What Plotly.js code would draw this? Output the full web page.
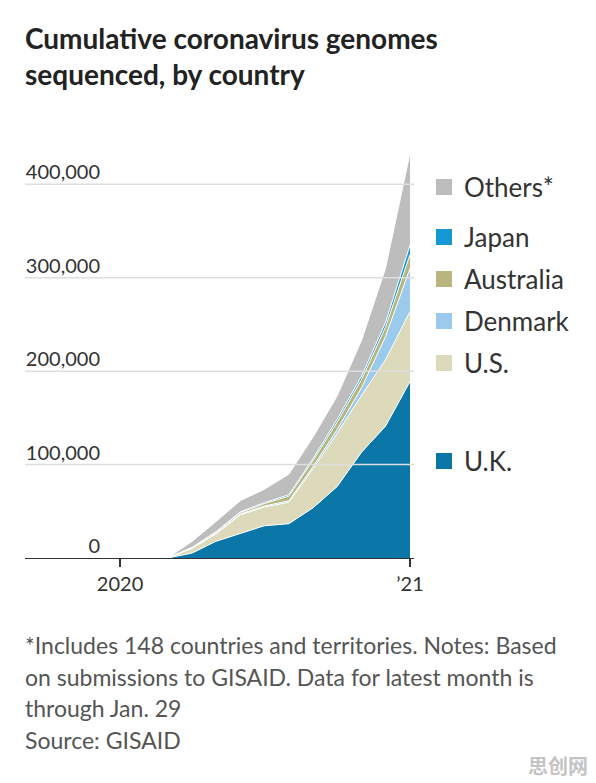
<!DOCTYPE html>
<html>
<head>
<meta charset="utf-8">
<script src="https://cdn.plot.ly/plotly-3.0.1.min.js"></script>
<style>html,body{margin:0;padding:0;background:#fff;}#chart{width:596px;height:783px;}</style>
</head>
<body>
<div id="chart"></div>
<script>
// ---- data (cumulative genomes, stacked by country) ----
var months = ['2020-03-01','2020-04-01','2020-05-01','2020-06-01','2020-07-01','2020-08-01','2020-09-01','2020-10-01','2020-11-01','2020-12-01','2021-01-01'];
var uk        = [0, 5300, 17800, 26700, 34500, 36700, 54000, 76500, 113500, 141000, 189000];
var us        = [0, 5000,  7800, 19500, 20000, 23000, 42000, 57000,  61000,  71000,  75000];
var denmark   = [0,  400,   800,  1000,  1200,  1500,  2500,  4000,   8000,  25000,  46000];
var australia = [0,  500,  1200,  1500,  2500,  5000,  6500,  8000,   9000,  10000,  15000];
var japan     = [0,  300,   600,   800,  1000,  1500,  2000,  3000,   3500,   5000,  10000];
var others    = [0, 6300, 10800, 12000, 14300, 22000, 23000, 25000,  38500,  58000,  98500];

var seriesNames = ['U.K.', 'U.S.', 'Denmark', 'Australia', 'Japan', 'Others*'];
var seriesData  = [uk, us, denmark, australia, japan, others];
var seriesColors = ['#0b76a8', '#dddabb', '#9bcaec', '#b9b57f', '#1598d5', '#bdbdbd'];
var legendY = [461, 363, 321, 279, 237, 187]; // px centre of each legend label

var xTickVals = ['2020-01-01', '2021-01-01'];
var xTickText = ['2020', '\u201921'];
var yTickVals = [0, 100000, 200000, 300000, 400000];

var FONT = "Lato, 'Open Sans', sans-serif";
var W = 596, H = 783;

var traces = [];
seriesData.forEach(function(vals, i){
  traces.push({
    type: 'scatter', x: months, y: vals, stackgroup: 'one',
    mode: 'lines', line: {color: '#ffffff', width: 1},
    fillcolor: seriesColors[i], name: seriesNames[i],
    showlegend: false, hoverinfo: 'skip'
  });
});
var layout = {
  width: W, height: H,
  margin: {l: 25, r: 182, t: 147, b: 225},
  paper_bgcolor: '#fff', plot_bgcolor: '#fff',
  font: {family: FONT, color: '#333'},
  title: {
    text: 'Cumulative coronavirus genomes<br>sequenced, by country',
    font: {family: FONT, size: 28, weight: 700, color: '#222'},
    x: 25 / W, xanchor: 'left', xref: 'container',
    y: 1 - 49 / H, yanchor: 'top', yref: 'container'
  },
  xaxis: {
    type: 'date', range: ['2019-09-03', '2021-01-06'],
    tickvals: xTickVals, ticktext: xTickText,
    ticks: 'outside', ticklen: 8, tickwidth: 1.4, tickcolor: '#333',
    showline: true, linecolor: '#333', linewidth: 1.4,
    showgrid: false, zeroline: false,
    tickfont: {family: FONT, size: 20, color: '#333'},
    layer: 'above traces', fixedrange: true
  },
  yaxis: {
    range: [0, 440000], tickvals: yTickVals, tickformat: ',',
    showgrid: false, zeroline: false, showline: false, ticks: '',
    ticklabelposition: 'outside', ticklabelstandoff: -76, ticklabelshift: -12,
    tickfont: {family: FONT, size: 20, color: '#333'},
    fixedrange: true
  },
  shapes: [],
  annotations: []
};

// gridlines drawn above the areas, at the y tick values
yTickVals.forEach(function(v){
  if (v === 0) return;
  layout.shapes.push({type: 'line', layer: 'above', xref: 'paper', x0: 0, x1: 1,
    yref: 'y', y0: v, y1: v, line: {color: '#dedede', width: 1.5}});
});

// legend swatches, one legend per entry so each can sit beside its band
seriesNames.forEach(function(n, i){
  var key = i === 0 ? 'legend' : 'legend' + (i + 1);
  traces.push({
    type: 'scatter', x: [null], y: [null], mode: 'markers', name: n,
    marker: {symbol: 'square', size: 18, color: seriesColors[i]},
    legend: key, showlegend: true, hoverinfo: 'skip'
  });
  layout[key] = {
    xref: 'container', yref: 'container',
    x: 424 / W, xanchor: 'left', y: 1 - legendY[i] / H, yanchor: 'middle',
    font: {family: FONT, size: 26, color: '#333'},
    bgcolor: 'rgba(0,0,0,0)', borderwidth: 0, itemsizing: 'trace'
  };
});

// footnote
var notes = ['*Includes 148 countries and territories. Notes: Based',
             'on submissions to GISAID. Data for latest month is',
             'through Jan. 29',
             'Source: GISAID'];
var noteY = [645, 677, 708, 740];
var plotTop = 147, plotH = H - 147 - 225, plotL = 25, plotW = W - 25 - 182;
notes.forEach(function(t, i){
  layout.annotations.push({
    text: t, showarrow: false, xref: 'paper', yref: 'paper',
    x: (23 - plotL) / plotW, xanchor: 'left',
    y: (plotTop + plotH - noteY[i]) / plotH, yanchor: 'middle',
    font: {family: FONT, size: 23, color: '#555'}
  });
});
layout.annotations.push({
  text: '思创网', showarrow: false, xref: 'paper', yref: 'paper',
  x: (590 - plotL) / plotW, xanchor: 'right',
  y: (plotTop + plotH - 765) / plotH, yanchor: 'middle',
  font: {family: "'Noto Sans CJK SC', sans-serif", size: 20, weight: 700, color: '#c4c4c4'}
});

Plotly.newPlot('chart', traces, layout, {displayModeBar: false, staticPlot: true});
</script>
</body>
</html>
